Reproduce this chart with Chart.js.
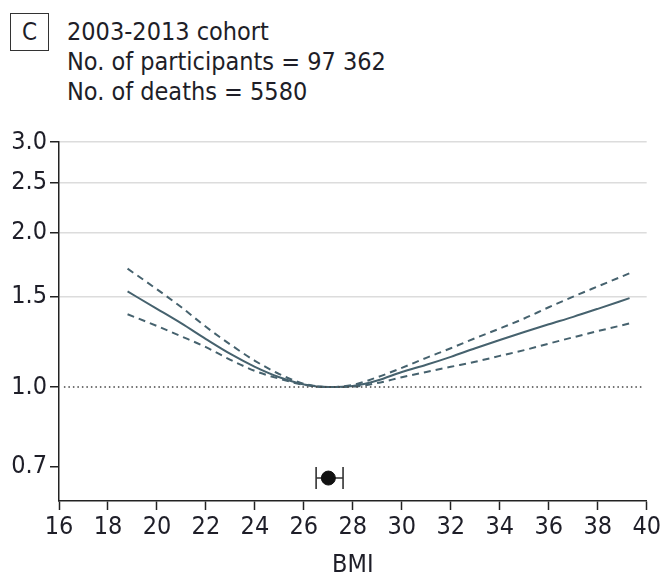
<!DOCTYPE html>
<html>
<head>
<meta charset="utf-8">
<script src="https://cdn.jsdelivr.net/npm/chart.js@4/dist/chart.umd.min.js"></script>
<style>
  html, body { margin: 0; padding: 0; background: #fff; }
  #wrap { position: relative; width: 663px; height: 580px; font-family: "DejaVu Sans Condensed", "Liberation Sans", sans-serif; color: #1e1e28; }
  #panel { position: absolute; left: 10px; top: 13px; width: 37px; height: 36px; border: 1.5px solid #333; font-size: 24px; line-height: 36px; text-align: center; }
  #header { position: absolute; left: 67px; top: 17px; font-size: 25px; line-height: 30px; }
  canvas { position: absolute; left: 0; top: 0; }
</style>
</head>
<body>
<div id="wrap">
  <div id="panel">C</div>
  <div id="header">
    <div>2003-2013 cohort</div>
    <div>No. of participants = 97 362</div>
    <div>No. of deaths = 5580</div>
  </div>
  <canvas id="chart" width="663" height="580"></canvas>
</div>
<script>
document.addEventListener('DOMContentLoaded', () => {
    // BMI grid and hazard ratio curve with 95% CI
    const bmi   = [18.8, 20, 21, 22, 23, 24, 25, 26, 27, 28, 29, 30, 31, 32, 33, 34, 35, 36, 37, 38, 39.3];
    const hr    = [1.535, 1.42, 1.33, 1.24, 1.16, 1.095, 1.045, 1.012, 1.0, 1.005, 1.03, 1.07, 1.105, 1.145, 1.19, 1.235, 1.28, 1.325, 1.37, 1.42, 1.49];
    const upper = [1.70, 1.55, 1.43, 1.31, 1.21, 1.125, 1.06, 1.015, 1.0, 1.01, 1.045, 1.09, 1.14, 1.19, 1.245, 1.30, 1.36, 1.43, 1.50, 1.57, 1.665];
    const lower = [1.386, 1.315, 1.255, 1.196, 1.13, 1.075, 1.038, 1.01, 1.0, 1.002, 1.018, 1.045, 1.07, 1.095, 1.12, 1.15, 1.18, 1.215, 1.25, 1.285, 1.33];

    // Reference line at HR = 1
    const refX = [16.2, 39.9];
    const refY = [1.0, 1.0];

    // Nadir BMI with 95% CI
    const nadirBmi = [27.0];
    const nadirLow = [26.5];
    const nadirHigh = [27.6];
    const nadirY = [0.665];

    const yTicks = [0.7, 1.0, 1.5, 2.0, 2.5, 3.0];
    const lineColor = '#46626e';
    const textColor = '#1e1e28';
    const fontFamily = '"DejaVu Sans Condensed", "Liberation Sans", sans-serif';

    const toPoints = (xs, ys) => xs.map((x, i) => ({ x: x, y: ys[i] }));

    // Draws the horizontal CI whiskers for the nadir point
    const nadirBars = {
        id: 'nadirBars',
        beforeDatasetsDraw(chart) {
            const { ctx, scales: { x, y } } = chart;
            ctx.save();
            ctx.strokeStyle = '#333';
            ctx.lineWidth = 1.6;
            nadirBmi.forEach((b, i) => {
                const py = y.getPixelForValue(nadirY[i]);
                const x0 = x.getPixelForValue(nadirLow[i]);
                const x1 = x.getPixelForValue(nadirHigh[i]);
                ctx.beginPath();
                ctx.moveTo(x0, py); ctx.lineTo(x1, py);
                ctx.moveTo(x0, py - 11); ctx.lineTo(x0, py + 11);
                ctx.moveTo(x1, py - 11); ctx.lineTo(x1, py + 11);
                ctx.stroke();
            });
            ctx.restore();
        }
    };

    new Chart(document.getElementById('chart').getContext('2d'), {
        type: 'line',
        data: {
            datasets: [
                { data: toPoints(refX, refY), borderColor: '#444', borderWidth: 1.5, borderDash: [1.5, 3], pointRadius: 0 },
                { data: toPoints(bmi, upper), borderColor: lineColor, borderWidth: 2, borderDash: [7, 5], pointRadius: 0, cubicInterpolationMode: 'monotone' },
                { data: toPoints(bmi, lower), borderColor: lineColor, borderWidth: 2, borderDash: [7, 5], pointRadius: 0, cubicInterpolationMode: 'monotone' },
                { data: toPoints(bmi, hr), borderColor: lineColor, borderWidth: 2, pointRadius: 0, cubicInterpolationMode: 'monotone' },
                { type: 'scatter', data: toPoints(nadirBmi, nadirY), backgroundColor: '#111', borderColor: '#111', pointRadius: 7 }
            ]
        },
        options: {
            responsive: false,
            animation: false,
            layout: { padding: { left: 0, top: 142, right: 16, bottom: 0 } },
            plugins: { legend: { display: false }, tooltip: { enabled: false } },
            scales: {
                x: {
                    type: 'linear',
                    min: 16,
                    max: 40,
                    afterFit: (s) => { s.height = 79; },
                    ticks: { stepSize: 2, color: textColor, font: { family: fontFamily, size: 25 }, padding: 2, maxRotation: 0 },
                    grid: { drawOnChartArea: false, drawTicks: true, tickLength: 9, tickColor: '#222', tickWidth: 1.5 },
                    border: { color: '#222', width: 1.5 },
                    title: { display: true, text: 'BMI', color: textColor, font: { family: fontFamily, size: 25 }, padding: { top: 6, bottom: 0 } }
                },
                y: {
                    type: 'logarithmic',
                    min: 0.6,
                    max: 3.0,
                    afterFit: (s) => { s.width = 59; },
                    afterBuildTicks: (s) => { s.ticks = yTicks.map(v => ({ value: v })); },
                    ticks: {
                        color: textColor,
                        font: { family: fontFamily, size: 25 },
                        padding: 3,
                        callback: (v) => Number(v).toFixed(1)
                    },
                    grid: {
                        color: (c) => (c.tick && c.tick.value >= 1.5 ? '#dcdcdc' : 'rgba(0,0,0,0)'),
                        lineWidth: 1.5,
                        drawTicks: true,
                        tickLength: 9,
                        tickColor: '#222',
                        tickWidth: 1.5
                    },
                    border: { color: '#222', width: 1.5 }
                }
            }
        },
        plugins: [nadirBars]
    });
});
</script>
</body>
</html>
